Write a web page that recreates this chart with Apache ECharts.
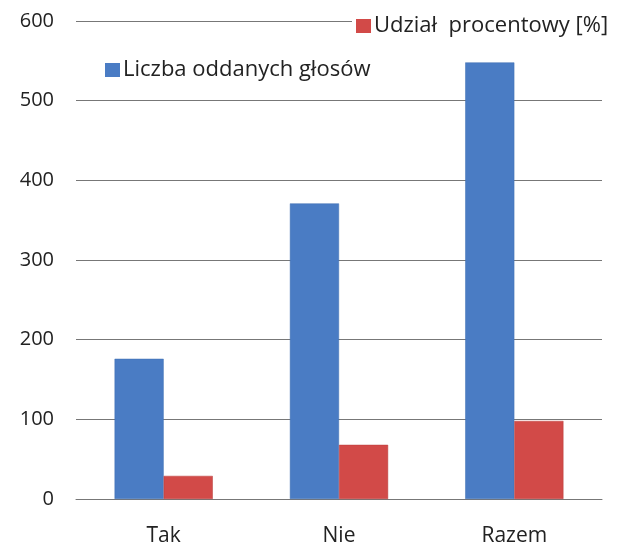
<!DOCTYPE html>
<html>
<head>
<meta charset="utf-8">
<script src="https://cdn.jsdelivr.net/npm/echarts@6/dist/echarts.min.js"></script>
<style>
  html, body { margin: 0; padding: 0; background: #fff; }
  #chart { width: 627px; height: 547px; }
</style>
</head>
<body>
<div id="chart"></div>
<script>
const categories = ['Tak', 'Nie', 'Razem'];
const votes = [176, 371, 548];
const share = [29, 68, 98];
const yTicks = [0, 100, 200, 300, 400, 500, 600];

const chart = echarts.init(document.getElementById('chart'));

const font = '"Open Sans", sans-serif';

chart.setOption({
  animation: false,
  backgroundColor: '#fff',
  grid: { left: 76, right: 25, top: 21, bottom: 46 },
  legend: [
    {
      data: ['Liczba oddanych głosów'],
      icon: 'rect',
      left: 101,
      top: 55,
      itemWidth: 15,
      itemHeight: 14,
      itemGap: 0,
      padding: 4,
      itemStyle: { borderWidth: 0 },
      textStyle: { fontFamily: font, fontSize: 22, color: '#222', padding: [0, 0, 0, -2] }
    },
    {
      data: ['Udział  procentowy [%]'],
      icon: 'rect',
      left: 352,
      top: 11,
      itemWidth: 15,
      itemHeight: 14,
      padding: [4, 2, 4, 4],
      backgroundColor: '#fff',
      itemStyle: { borderWidth: 0 },
      textStyle: { fontFamily: font, fontSize: 22, color: '#222', padding: [0, 0, 0, -2] }
    }
  ],
  xAxis: {
    type: 'category',
    data: categories,
    axisLine: { lineStyle: { color: '#777', width: 1 } },
    axisTick: { show: false },
    axisLabel: { fontFamily: font, fontSize: 21, color: '#222', margin: 27 }
  },
  yAxis: {
    type: 'value',
    min: yTicks[0],
    max: yTicks[yTicks.length - 1],
    interval: 100,
    axisLine: { show: false },
    axisTick: { show: false },
    axisLabel: { fontFamily: font, fontSize: 20, color: '#222', margin: 22 },
    splitLine: { lineStyle: { color: '#777', width: 1 } }
  },
  series: [
    {
      name: 'Liczba oddanych głosów',
      type: 'bar',
      data: votes,
      barWidth: '28%',
      barGap: '0%',
      itemStyle: { color: '#4a7cc4', borderColor: '#3f6fb2', borderWidth: 0.5 }
    },
    {
      name: 'Udział  procentowy [%]',
      type: 'bar',
      data: share,
      barWidth: '28%',
      itemStyle: { color: '#d24a48', borderColor: '#b83c3a', borderWidth: 0.5 }
    }
  ]
});
</script>
</body>
</html>
